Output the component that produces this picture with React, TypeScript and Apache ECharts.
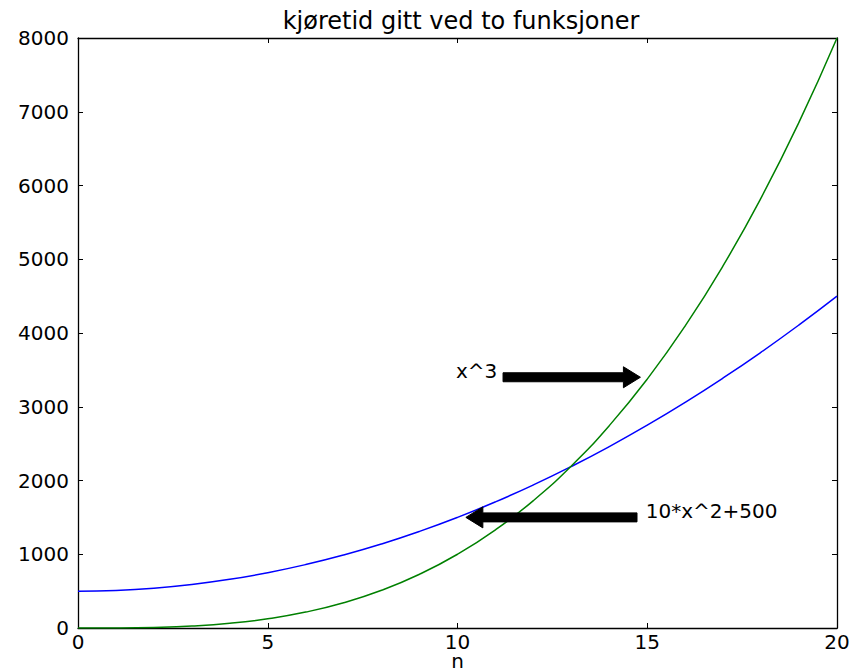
import React, { useEffect, useRef } from "react";
import * as echarts from "echarts";

const nValues = [0, 1, 2, 3, 4, 5, 6, 7, 8, 9, 10, 11, 12, 13, 14, 15, 16, 17, 18, 19, 20];
const quadValues = [500, 510, 540, 590, 660, 750, 860, 990, 1140, 1310, 1500, 1710, 1940, 2190, 2460, 2750, 3060, 3390, 3740, 4110, 4500];
const cubeValues = [0, 1, 8, 27, 64, 125, 216, 343, 512, 729, 1000, 1331, 1728, 2197, 2744, 3375, 4096, 4913, 5832, 6859, 8000];
const yTicks = [0, 1000, 2000, 3000, 4000, 5000, 6000, 7000, 8000];
const xTicks = [0, 5, 10, 15, 20];

const annoLabels = ["x^3", "10*x^2+500"];
const annoTextPos = [[10, 3400], [15, 1500]];
const arrowFrom = [[11.2, 3400], [14.73, 1500]];
const arrowTo = [[14.82, 3400], [10.22, 1500]];

const FONT = "DejaVu Sans";
const FS = 20;

export default function App() {
  const ref = useRef<HTMLDivElement>(null);
  useEffect(() => {
    document.body.style.margin = "0";
    const chart = echarts.init(ref.current!, null, { renderer: "svg" });
    const axisLine = { show: true, onZero: false, lineStyle: { color: "#000", width: 1.3 } };
    const tick = { show: true, inside: true, length: 5, lineStyle: { color: "#000", width: 1 } };
    const plain = (v: number) => String(v);
    chart.setOption({
      animation: false,
      backgroundColor: "#fff",
      title: {
        text: "kjøretid gitt ved to funksjoner",
        left: 456,
        top: 4,
        textAlign: "center",
        textStyle: { fontFamily: FONT, fontSize: 24, fontWeight: "normal", color: "#000" },
      },
      grid: { left: 78, top: 38, right: 19, bottom: 42, containLabel: false, outerBoundsMode: "none" },
      xAxis: [
        {
          type: "value",
          min: xTicks[0],
          max: xTicks[xTicks.length - 1],
          interval: 5,
          name: "n",
          nameLocation: "middle",
          nameGap: 25,
          nameMoveOverlap: false,
          nameTextStyle: { fontFamily: FONT, fontSize: FS, color: "#000", lineHeight: 16 },
          axisLine,
          axisTick: tick,
          splitLine: { show: false },
          axisLabel: { fontFamily: FONT, fontSize: FS, color: "#000", margin: 5, lineHeight: 17, formatter: plain },
        },
        {
          type: "value",
          position: "top",
          min: xTicks[0],
          max: xTicks[xTicks.length - 1],
          interval: 5,
          axisLine,
          axisTick: tick,
          splitLine: { show: false },
          axisLabel: { show: false },
        },
      ],
      yAxis: [
        {
          type: "value",
          min: yTicks[0],
          max: yTicks[yTicks.length - 1],
          interval: 1000,
          axisLine,
          axisTick: tick,
          splitLine: { show: false },
          axisLabel: { fontFamily: FONT, fontSize: FS, color: "#000", margin: 9, formatter: plain },
        },
        {
          type: "value",
          position: "right",
          min: yTicks[0],
          max: yTicks[yTicks.length - 1],
          interval: 1000,
          axisLine,
          axisTick: tick,
          splitLine: { show: false },
          axisLabel: { show: false },
        },
      ],
      series: [
        {
          type: "line",
          name: "10*x^2+500",
          data: nValues.map((n, i) => [n, quadValues[i]]),
          smooth: true,
          showSymbol: false,
          lineStyle: { color: "#0000ff", width: 1.5 },
          z: 3,
        },
        {
          type: "line",
          name: "x^3",
          data: nValues.map((n, i) => [n, cubeValues[i]]),
          smooth: true,
          showSymbol: false,
          lineStyle: { color: "#008000", width: 1.5 },
          z: 3,
        },
      ],
    });

    const px = (p: number[]) => chart.convertToPixel({ gridIndex: 0 }, p) as number[];
    const graphics: any[] = [];
    annoLabels.forEach((label, i) => {
      const t = px(annoTextPos[i]);
      graphics.push({
        type: "text",
        x: t[0] - 1.5,
        y: t[1] - 6,
        style: {
          text: label,
          fontFamily: FONT,
          fontSize: FS,
          fill: "#000",
          align: "left",
          verticalAlign: "middle",
        },
        z: 10,
      });
      const P = px(arrowFrom[i]);
      const Q = px(arrowTo[i]);
      const dx = Q[0] - P[0];
      const dy = Q[1] - P[1];
      const len = Math.hypot(dx, dy);
      const ux = dx / len;
      const uy = dy / len;
      const nx = -uy;
      const ny = ux;
      const w = 4.5;
      const h = 10.5;
      const L = 17;
      const B = [Q[0] - ux * L, Q[1] - uy * L];
      graphics.push({
        type: "polygon",
        shape: {
          points: [
            [P[0] + nx * w, P[1] + ny * w],
            [B[0] + nx * w, B[1] + ny * w],
            [B[0] + nx * h, B[1] + ny * h],
            [Q[0], Q[1]],
            [B[0] - nx * h, B[1] - ny * h],
            [B[0] - nx * w, B[1] - ny * w],
            [P[0] - nx * w, P[1] - ny * w],
          ],
        },
        style: { fill: "#000", stroke: "#000", lineWidth: 1 },
        z: 10,
      });
    });
    chart.setOption({ graphic: graphics });

    return () => chart.dispose();
  }, []);
  return <div ref={ref} style={{ width: 856, height: 670 }} />;
}
